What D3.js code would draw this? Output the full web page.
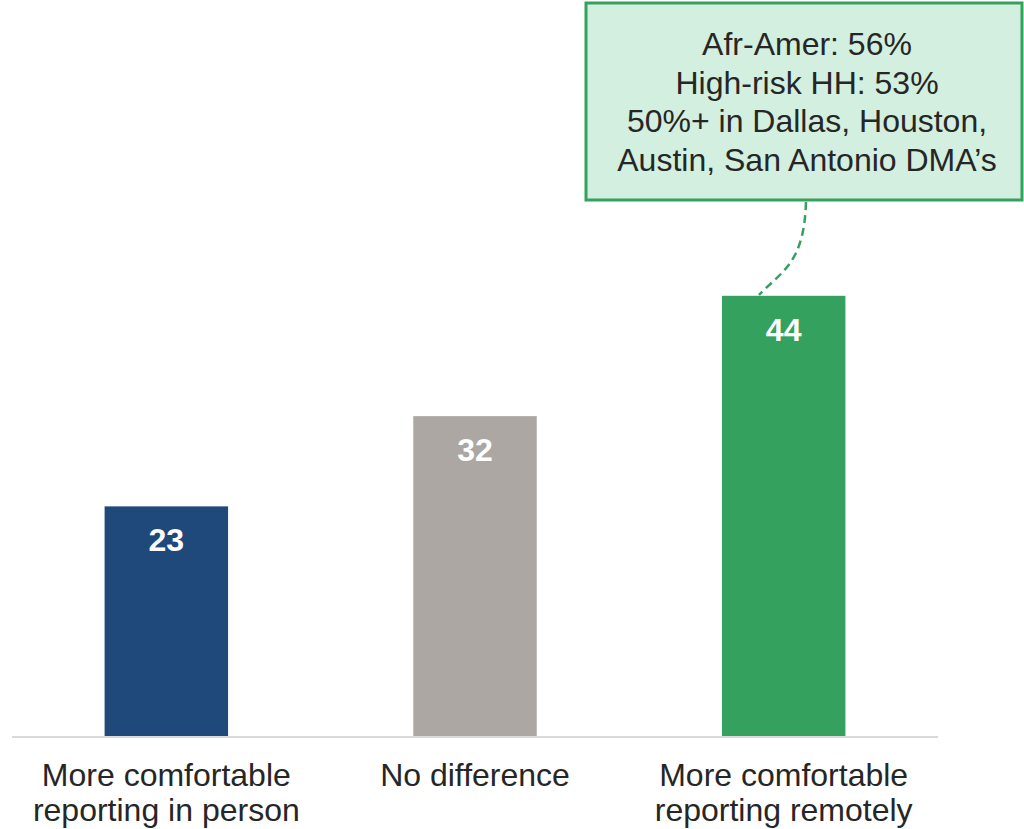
<!DOCTYPE html>
<html>
<head>
<meta charset="utf-8">
<script src="https://cdn.jsdelivr.net/npm/d3@7"></script>
<style>
  body { margin: 0; background: #fff; }
  svg { display: block; font-family: Arial, "Liberation Sans", sans-serif; }
</style>
</head>
<body>
<div id="vizcont"></div>
<script>
// chart data
var categories = ["inperson", "nodiff", "remote"];
var catLabels = [["More comfortable", "reporting in person"], ["No difference"], ["More comfortable", "reporting remotely"]];
var values = [23, 32, 44];
var barColors = ["#1F497A", "#ACA7A3", "#34A15E"];
var calloutLines = ["Afr-Amer: 56%", "High-risk HH: 53%", "50%+ in Dallas, Houston,", "Austin, San Antonio DMA\u2019s"];

var width = 1024, height = 829;

var svg = d3.select("#vizcont")
  .append("svg")
  .attr("width", width)
  .attr("height", height);

// scales
var x = d3.scaleBand()
  .domain(categories)
  .range([12, 938])
  .paddingInner(0.6)
  .paddingOuter(0.3);

var y = d3.scaleLinear()
  .domain([0, 73.5])
  .range([737, 0]);

// bars
svg.selectAll("rect.bar")
  .data(values)
  .enter()
  .append("rect")
  .attr("class", "bar")
  .attr("x", function(d, i) { return x(categories[i]); })
  .attr("y", function(d) { return y(d); })
  .attr("width", x.bandwidth())
  .attr("height", function(d) { return y(0) - y(d); })
  .style("fill", function(d, i) { return barColors[i]; });

// value labels inside bars
svg.selectAll("text.val")
  .data(values)
  .enter()
  .append("text")
  .attr("class", "val")
  .attr("x", function(d, i) { return x(categories[i]) + x.bandwidth() / 2; })
  .attr("y", function(d) { return y(d) + 45; })
  .attr("text-anchor", "middle")
  .style("font-size", "32px")
  .style("font-weight", "bold")
  .style("fill", "#fff")
  .text(function(d) { return d; });

// baseline axis
svg.append("line")
  .attr("x1", 12)
  .attr("x2", 938)
  .attr("y1", y(0))
  .attr("y2", y(0))
  .attr("stroke", "#D9D9D9")
  .style("stroke-width", "2px");

// category labels
var cat = svg.selectAll("text.cat")
  .data(catLabels)
  .enter()
  .append("text")
  .attr("class", "cat")
  .attr("text-anchor", "middle")
  .style("font-size", "32px")
  .style("fill", "#262626");

cat.selectAll("tspan")
  .data(function(d, i) { return d.map(function(t) { return {t: t, i: i}; }); })
  .enter()
  .append("tspan")
  .attr("x", function(d) { return x(categories[d.i]) + x.bandwidth() / 2; })
  .attr("y", function(d, j) { return 786 + j * 35; })
  .text(function(d) { return d.t; });

// callout box
var box = {x: 586, y: 3, w: 436, h: 197};
svg.append("rect")
  .attr("x", box.x)
  .attr("y", box.y)
  .attr("width", box.w)
  .attr("height", box.h)
  .style("fill", "#D3EFDF")
  .style("stroke", "#34A15E")
  .style("stroke-width", "3px");

svg.append("text")
  .attr("text-anchor", "middle")
  .style("font-size", "32px")
  .style("fill", "#262626")
  .selectAll("tspan")
  .data(calloutLines)
  .enter()
  .append("tspan")
  .attr("x", box.x + box.w / 2 + 3)
  .attr("y", function(d, i) { return 55 + i * 38.5; })
  .text(function(d) { return d; });

// dashed connector from box to the remote bar
var bx = x("remote") + 37, by = y(values[2]) - 1;
var sx = box.x + box.w / 2 + 2, sy = box.y + box.h + 2;
svg.append("path")
  .attr("d", "M" + sx + "," + sy + " C" + (sx - 2) + "," + (sy + 60) + " " + (bx + 25) + "," + (by - 25) + " " + bx + "," + by)
  .style("fill", "none")
  .style("stroke", "#34A15E")
  .style("stroke-width", "2.5px")
  .style("stroke-dasharray", "8,5");
</script>
</body>
</html>
